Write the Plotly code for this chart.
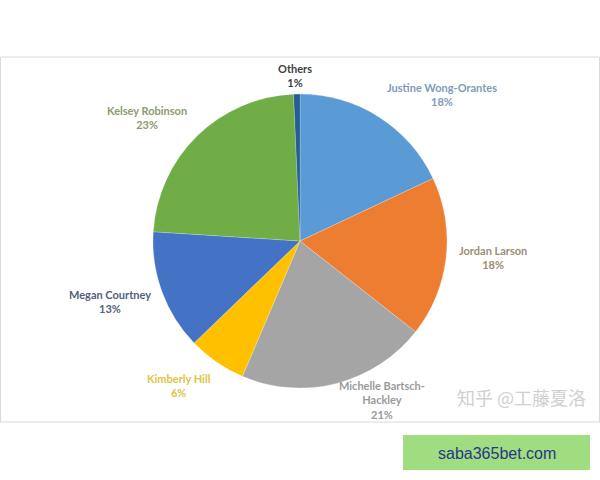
import plotly.graph_objects as go

# ---- data ----
players = ["Justine Wong-Orantes", "Jordan Larson", "Michelle Bartsch-Hackley",
           "Kimberly Hill", "Megan Courtney", "Kelsey Robinson", "Others"]
shares = [18.0, 17.6, 20.8, 6.4, 13.2, 23.3, 0.7]

# ---- styles ----
slice_colors = ["#5B9BD5", "#ED7D31", "#A5A5A5", "#FFC000", "#4472C4", "#70AD47", "#255E91"]
label_colors = ["#7E9BB8", "#A08C74", "#9A9A9A", "#E0C445", "#52627E", "#8C9C6C", "#404040"]
# label anchor positions (paper coords)
label_pos = [(442, 95), (493, 257), (382, 400), (179, 385), (110, 301), (147, 117), (295, 75)]

W, H = 600, 480

fig = go.Figure()
fig.add_trace(go.Pie(
    labels=players, values=shares, sort=False, direction="clockwise", rotation=0,
    marker=dict(colors=slice_colors, line=dict(color="rgba(255,255,255,0.4)", width=0.5)),
    textinfo="none", hoverinfo="label+percent", showlegend=False,
    domain=dict(x=[153 / W, 447 / W], y=[1 - 388 / H, 1 - 94 / H]),
))

total = sum(shares)
for name, v, c, (px, py) in zip(players, shares, label_colors, label_pos):
    disp = name.replace("Bartsch-", "Bartsch-<br>")
    fig.add_annotation(
        x=px / W, y=1 - py / H, xref="paper", yref="paper",
        text=f"{disp}<br>{round(v / total * 100)}%",
        showarrow=False, align="center", xanchor="center", yanchor="middle",
        font=dict(family="Lato", size=11, color=c, weight="bold"),
    )

# chart frame
fig.add_shape(type="rect", xref="paper", yref="paper",
              x0=0.5 / W, x1=599.5 / W, y0=1 - 422 / H, y1=1 - 57 / H,
              line=dict(color="#D9D9D9", width=1))

# watermark
fig.add_annotation(x=521 / W, y=1 - 397 / H, xref="paper", yref="paper",
                   xanchor="center", yanchor="middle",
                   text="知乎 @工藤夏洛", showarrow=False,
                   font=dict(family="Noto Sans CJK SC", size=18, color="#D0D0D0"))

# green badge
fig.add_shape(type="rect", xref="paper", yref="paper",
              x0=403 / W, x1=590 / W, y0=1 - 470 / H, y1=1 - 435 / H,
              fillcolor="#A0DC80", line=dict(width=0))
fig.add_annotation(x=497 / W, y=1 - 453 / H, xref="paper", yref="paper",
                   xanchor="center", yanchor="middle",
                   text="saba365bet.com", showarrow=False,
                   font=dict(family="Liberation Sans", size=16, color="#27378A"))

fig.update_layout(width=W, height=H, margin=dict(l=0, r=0, t=0, b=0),
                  paper_bgcolor="white", plot_bgcolor="white")
fig.write_html("out.html", config={"displayModeBar": False},
               post_script="document.body.style.margin='0';document.body.style.overflow='hidden';")
